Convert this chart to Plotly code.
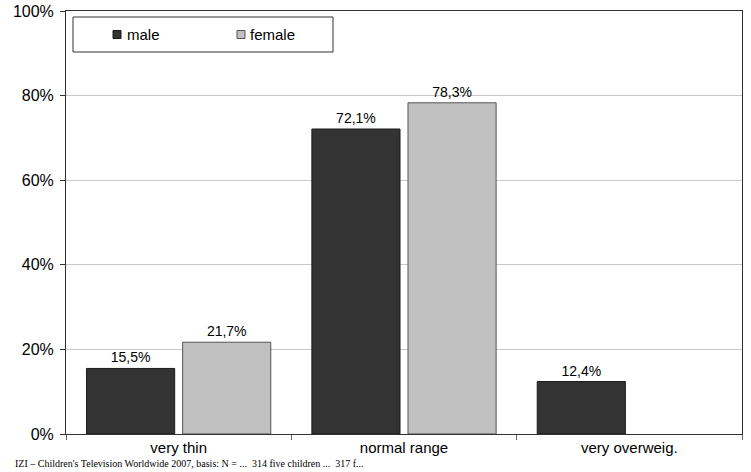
import plotly.graph_objects as go

categories = ["very thin", "normal range", "very overweig."]
male = [15.5, 72.1, 12.4]
female = [21.7, 78.3, None]
series_names = ["male", "female"]
y_ticks = [0, 20, 40, 60, 80, 100]
y_tick_labels = ["0%", "20%", "40%", "60%", "80%", "100%"]
footer = "IZI – Children's Television Worldwide 2007, basis: N = ...  314 five children ...  317 f..."

MALE_COL, MALE_LINE = "#333333", "#1a1a1a"
FEM_COL, FEM_LINE = "#c0c0c0", "#555555"
FONT = "Liberation Sans, Arial"


def lab(vals):
    return ["" if v is None else f"{v:.1f}%".replace(".", ",") for v in vals]


fig = go.Figure()
fig.add_trace(go.Bar(
    name=series_names[0], x=categories, y=male, text=lab(male), textposition="outside",
    marker=dict(color=MALE_COL, line=dict(color=MALE_LINE, width=1)),
    textfont=dict(family=FONT, size=14, color="#000"), cliponaxis=False,
))
fig.add_trace(go.Bar(
    name=series_names[1], x=categories, y=female, text=lab(female), textposition="outside",
    marker=dict(color=FEM_COL, line=dict(color=FEM_LINE, width=1)),
    textfont=dict(family=FONT, size=14, color="#000"), cliponaxis=False,
))

# plot area in pixels: x 66..742, y 11..434
W, H = 676.0, 423.0
def px(x):
    return (x - 66) / W
def py(y):
    return (434 - y) / H

fig.update_layout(
    width=751, height=472,
    margin=dict(l=66, r=9, t=11, b=38, autoexpand=False),
    paper_bgcolor="white", plot_bgcolor="white",
    barmode="group", bargap=0.147, bargroupgap=0.083,
    font=dict(family=FONT, size=14, color="#000"),
    showlegend=False,
    xaxis=dict(
        showline=True, linecolor="#333333", linewidth=1, mirror=True,
        ticks="outside", tickson="boundaries", ticklen=5, tickcolor="#666666",
        tickfont=dict(family=FONT, size=15), showgrid=False, automargin=False,
    ),
    yaxis=dict(
        range=[0, 100], tickvals=y_ticks, ticktext=y_tick_labels,
        showline=True, linecolor="#333333", linewidth=1, mirror=True,
        ticks="outside", ticklen=5, tickcolor="#333333",
        showgrid=True, gridcolor="#c8c8c8", gridwidth=1,
        tickfont=dict(family=FONT, size=16), zeroline=False, automargin=False,
        ticklabelstandoff=3,
    ),
)

# legend (drawn manually to match the reference box)
fig.add_shape(type="rect", xref="paper", yref="paper",
              x0=px(73), x1=px(333), y0=py(52), y1=py(17),
              line=dict(color="#333333", width=1), fillcolor="white", layer="above")
for (sx, tx, name, col, lc) in [(113, 125, series_names[0], MALE_COL, MALE_LINE),
                                (237, 248, series_names[1], FEM_COL, FEM_LINE)]:
    fig.add_shape(type="rect", xref="paper", yref="paper",
                  x0=px(sx), x1=px(sx + 8), y0=py(38.5), y1=py(30.5),
                  line=dict(color=lc, width=1), fillcolor=col, layer="above")
    fig.add_annotation(text=name, xref="paper", yref="paper", x=px(tx), y=py(34.5),
                       xanchor="left", yanchor="middle", showarrow=False,
                       font=dict(family=FONT, size=15, color="#000"))

fig.add_annotation(
    text=footer, xref="paper", yref="paper", x=px(13), y=py(471),
    xanchor="left", yanchor="bottom", showarrow=False,
    font=dict(family="Liberation Serif, Times New Roman", size=10, color="#000"),
)

fig.write_html("out.html", config={"displayModeBar": False},
               post_script="document.body.style.margin='0';document.body.style.overflow='hidden';")
